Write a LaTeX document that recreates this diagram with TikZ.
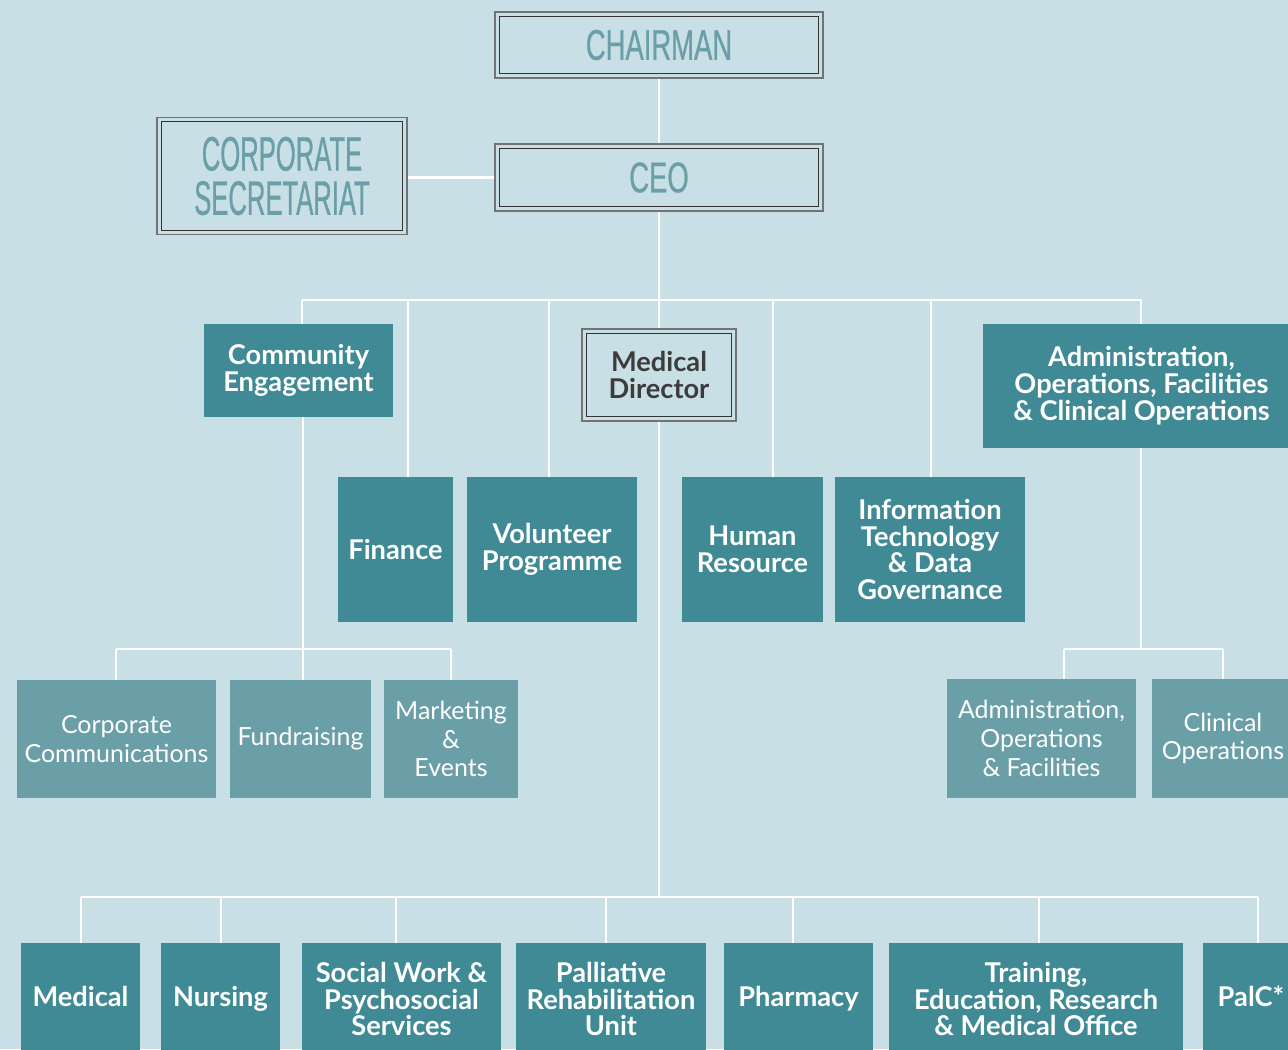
\documentclass[tikz,border=0pt]{standalone}
\usepackage{fontspec}
\setmainfont{Lato}
\newfontfamily\condA[FakeStretch=0.64,FakeBold=0.6]{Liberation Sans}
\newfontfamily\condB[FakeStretch=0.53,FakeBold=0.6]{Liberation Sans}
\definecolor{bg}{HTML}{C8DFE5}
\definecolor{dteal}{HTML}{3F8A94}
\definecolor{lteal}{HTML}{6A9FA8}
\definecolor{ttl}{HTML}{6A9FA8}
\definecolor{mdtext}{HTML}{3C3C3C}
\begin{document}
\begin{tikzpicture}[x=0.02cm,y=-0.02cm,
  conn/.style={draw=white,line width=1.6pt},
  dbox/.style={draw=black!55,line width=0.9pt,inner sep=0pt,align=center,
    path picture={\draw[black!80,line width=0.7pt]
      ([shift={(2.4pt,2.4pt)}]path picture bounding box.south west) rectangle
      ([shift={(-2.4pt,-2.4pt)}]path picture bounding box.north east);}},
  dk/.style={fill=dteal,text=white,inner sep=0pt,align=center,
    font=\fontsize{15.5}{15.3}\selectfont\bfseries},
  lt/.style={fill=lteal,text=white,inner sep=0pt,align=center,
    font=\fontsize{14.2}{16.4}\selectfont}]
\clip (0,0) rectangle (1288,1049);
\fill[bg] (0,0) rectangle (1288,1049);
\useasboundingbox (0,0) rectangle (1288,1049);

% top
\node[dbox,minimum width=6.56cm,minimum height=1.32cm,text=ttl,
  font=\condA\fontsize{24.4}{27}\selectfont] (chair) at (659,45) {CHAIRMAN};
\node[dbox,minimum width=6.56cm,minimum height=1.34cm,text=ttl,
  font=\condA\fontsize{24.4}{27}\selectfont] (ceo) at (659,177.5) {CEO};
\node[dbox,minimum width=5.0cm,minimum height=2.34cm,text=ttl,
  font=\condB\fontsize{27.5}{25.2}\selectfont] (sec) at (282,176) {CORPORATE\\SECRETARIAT};
\node[dbox,minimum width=3.08cm,minimum height=1.84cm,text=mdtext,
  font=\fontsize{15.5}{15.3}\selectfont\bfseries] (md) at (659,375) {Medical\\Director};

% second level
\node[dk,minimum width=3.78cm,minimum height=1.86cm] (ce) at (298.5,370.5) {Community\\Engagement};
\node[dk,minimum width=2.30cm,minimum height=2.90cm] (fin) at (395.5,549.5) {Finance};
\node[dk,minimum width=3.40cm,minimum height=2.90cm] (vol) at (552,549.5) {Volunteer\\Programme};
\node[dk,minimum width=2.82cm,minimum height=2.90cm] (hr) at (752.5,549.5) {Human\\Resource};
\node[dk,minimum width=3.80cm,minimum height=2.90cm] (it) at (930,549.5) {Information\\Technology\\\& Data\\Governance};
\node[dk,minimum width=6.34cm,minimum height=2.48cm] (adm) at (1141.5,386) {Administration,\\Operations, Facilities\\\& Clinical Operations};

% third level
\node[lt,minimum width=3.98cm,minimum height=2.36cm] (cc) at (116.5,739) {Corporate\\Communications};
\node[lt,minimum width=2.82cm,minimum height=2.36cm] (fr) at (300.5,739) {Fundraising};
\node[lt,minimum width=2.68cm,minimum height=2.36cm] (me) at (451,739) {Marketing\\\&\\Events};
\node[lt,minimum width=3.78cm,minimum height=2.38cm] (aof) at (1041.5,738.5) {Administration,\\Operations\\\& Facilities};
\node[lt,minimum width=2.84cm,minimum height=2.38cm] (co) at (1223,738.5) {Clinical\\Operations};

% bottom row
\node[dk,minimum width=2.38cm,minimum height=2.24cm] (med) at (80.5,999) {\raisebox{3pt}{Medical}};
\node[dk,minimum width=2.38cm,minimum height=2.24cm] (nur) at (220.5,999) {\raisebox{3pt}{Nursing}};
\node[dk,minimum width=3.98cm,minimum height=2.24cm] (sw) at (401.5,999) {Social Work \&\\Psychosocial\\Services};
\node[dk,minimum width=3.80cm,minimum height=2.24cm] (pal) at (611,999) {Palliative\\Rehabilitation\\Unit};
\node[dk,minimum width=2.98cm,minimum height=2.24cm] (ph) at (798.5,999) {\raisebox{3pt}{Pharmacy}};
\node[dk,minimum width=5.88cm,minimum height=2.24cm] (tr) at (1036,999) {Training,\\Education, Research\\\& Medical Office};
\node[dk,minimum width=1.92cm,minimum height=2.24cm] (palc) at (1251,999) {\raisebox{3pt}{PalC*}};

% bus coordinates
\coordinate (t1) at (302,300); \coordinate (t2) at (1141,300);
\coordinate (tf) at (408,300); \coordinate (tv) at (549,300);
\coordinate (th) at (773,300); \coordinate (ti) at (931,300);
\coordinate (cx) at (303,649); \coordinate (m1) at (116,649); \coordinate (m2) at (451,649);
\coordinate (ax) at (1141,649); \coordinate (a1) at (1064,649); \coordinate (a2) at (1223,649);
\coordinate (b0) at (659,897);
\coordinate (b1) at (81,897); \coordinate (b2) at (221,897); \coordinate (b3) at (396,897);
\coordinate (b4) at (606,897); \coordinate (b5) at (793,897); \coordinate (b6) at (1039,897);
\coordinate (b7) at (1258,897);

% connectors
\draw[conn] (chair) -- (ceo);
\draw[conn] (ceo.west) -- (ceo.west -| sec.east);
\draw[conn] (ceo) -- (md);
\draw[conn] (md) -- (b0);
\draw[conn] (t1) -- (t2);
\draw[conn] (t1) -- (t1 |- ce.north);
\draw[conn] (tf) -- (tf |- fin.north);
\draw[conn] (tv) -- (tv |- vol.north);
\draw[conn] (th) -- (th |- hr.north);
\draw[conn] (ti) -- (ti |- it.north);
\draw[conn] (t2) -- (t2 |- adm.north);
\draw[conn] (cx |- ce.south) -- (cx);
\draw[conn] (m1) -- (m2);
\draw[conn] (m1) -- (m1 |- cc.north);
\draw[conn] (cx) -- (cx |- fr.north);
\draw[conn] (m2) -- (m2 |- me.north);
\draw[conn] (ax |- adm.south) -- (ax);
\draw[conn] (a1) -- (a2);
\draw[conn] (a1) -- (a1 |- aof.north);
\draw[conn] (a2) -- (a2 |- co.north);
\draw[conn] (b1) -- (b7);
\draw[conn] (b1) -- (b1 |- med.north);
\draw[conn] (b2) -- (b2 |- nur.north);
\draw[conn] (b3) -- (b3 |- sw.north);
\draw[conn] (b4) -- (b4 |- pal.north);
\draw[conn] (b5) -- (b5 |- ph.north);
\draw[conn] (b6) -- (b6 |- tr.north);
\draw[conn] (b7) -- (b7 |- palc.north);
\end{tikzpicture}
\end{document}
